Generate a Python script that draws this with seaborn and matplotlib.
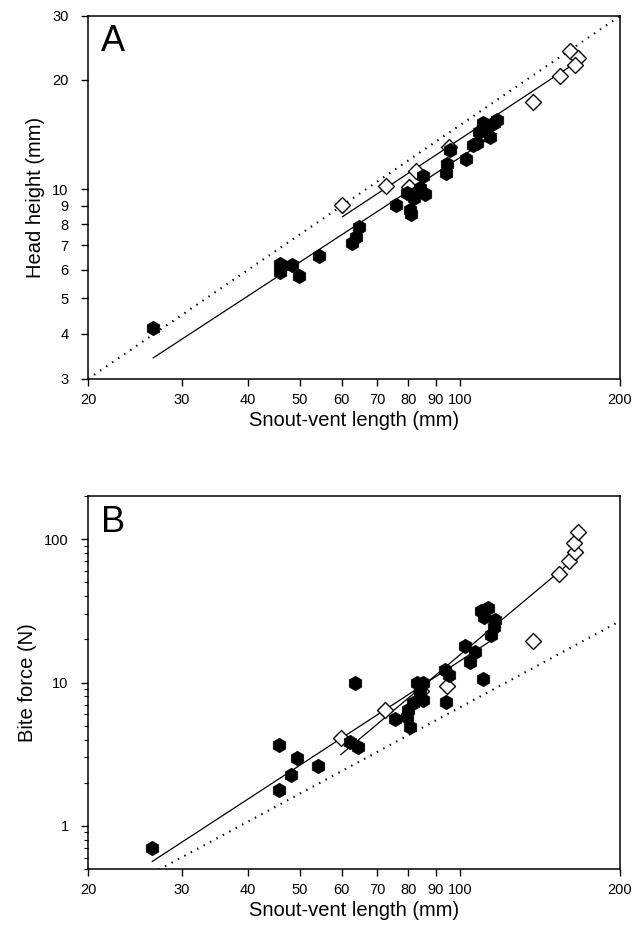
import numpy as np
import matplotlib
matplotlib.use("Agg")
import matplotlib.pyplot as plt
import seaborn as sns
from matplotlib.ticker import FixedLocator, FixedFormatter, NullLocator, LogLocator, NullFormatter

# ---------------- data ----------------
# Panel A: head height vs snout-vent length
svl_filled_A = [26.5, 46.0, 46.0, 48.4, 49.8, 54.4, 62.6, 63.8, 64.7, 75.9,
                79.4, 80.6, 80.8, 83.0, 86.0, 81.9, 84.2, 85.4, 94.2, 94.7,
                95.8, 102.7, 106.0, 107.6, 110.7, 117.3, 113.9, 108.5, 112.4, 115.8]
hh_filled_A = [4.14, 6.22, 5.93, 6.18, 5.77, 6.55, 7.10, 7.37, 7.88, 9.04,
               9.78, 8.77, 8.55, 9.84, 9.68, 9.44, 10.06, 10.87, 11.1, 11.73,
               12.83, 12.09, 13.23, 13.38, 15.19, 15.51, 13.95, 14.4, 14.87, 15.19]
svl_open_A = [60.1, 72.6, 80.2, 82.7, 95.3, 137.4, 154.3, 161.1, 167.0, 164.6]
hh_open_A = [9.05, 10.2, 10.16, 11.24, 13.1, 17.4, 20.5, 24.0, 23.0, 22.0]

# Panel B: bite force vs snout-vent length
svl_filled_B = [26.4, 45.8, 45.8, 48.1, 49.4, 54.1, 63.5, 62.1, 64.3, 75.5,
                83.0, 85.4, 84.2, 85.4, 81.8, 80.0, 79.4, 80.6, 93.8, 95.3,
                94.2, 102.2, 106.8, 104.6, 110.6, 109.6, 113.2, 111.0, 116.4, 115.7,
                114.3]
bf_filled_B = [0.70, 3.66, 1.78, 2.26, 2.96, 2.61, 9.96, 3.86, 3.56, 5.53,
               9.86, 9.86, 8.40, 7.54, 7.15, 6.42, 5.77, 4.91, 12.21, 11.27,
               7.34, 17.96, 16.4, 13.96, 10.52, 31.5, 32.9, 28.7, 27.3, 24.5,
               21.4]
svl_open_B = [59.7, 72.3, 84.5, 94.7, 137.1, 153.6, 160.2, 164.6, 164.2, 166.7]
bf_open_B = [4.07, 6.42, 8.7, 9.44, 19.55, 56.8, 70.4, 81.7, 94.4, 112.6]

# isometry reference lines: y = coef * x ** exponent
iso_A = (0.15, 1.0)
iso_B = (6.7e-4, 2.0)

x_ticks = [20, 30, 40, 50, 60, 70, 80, 90, 100, 200]
yA_ticks = [3, 4, 5, 6, 7, 8, 9, 10, 20, 30]
yB_ticks = [1, 10, 100]

# ---------------- styling ----------------
sns.set_style("ticks")
plt.rcParams['font.family'] = ['Liberation Sans', 'DejaVu Sans']
plt.rcParams['axes.linewidth'] = 1.1
for key in ('text.color', 'axes.labelcolor', 'xtick.color', 'ytick.color',
            'axes.edgecolor'):
    plt.rcParams[key] = 'black'

fig = plt.figure(figsize=(6.42, 9.32), dpi=100)
axA = fig.add_axes([88 / 642, 1 - 379 / 932, 532 / 642, 363 / 932])
axB = fig.add_axes([88 / 642, 1 - 869 / 932, 532 / 642, 373 / 932])


def draw_panel(ax, xf, yf, xo, yo, iso, ylim, ylabel, letter):
    ax.set_xscale('log')
    ax.set_yscale('log')
    # isometry line (dotted)
    xx = np.geomspace(20, 200, 300)
    sns.lineplot(x=xx, y=iso[0] * xx ** iso[1], ax=ax, color='black', lw=1.5,
                 linestyle=(0, (0.7, 2.8)), zorder=1)
    # regression lines per group in log-log space
    for xs, ys in ((xf, yf), (xo, yo)):
        xs = np.asarray(xs, float)
        ys = np.asarray(ys, float)
        b, a = np.polyfit(np.log10(xs), np.log10(ys), 1)
        xr = np.geomspace(xs.min(), xs.max(), 60)
        sns.lineplot(x=xr, y=10 ** a * xr ** b, ax=ax, color='black', lw=0.9, zorder=1)
    sns.scatterplot(x=xo, y=yo, ax=ax, marker='D', s=66, facecolor='white',
                    edgecolor='black', linewidth=1.0, zorder=2)
    sns.scatterplot(x=xf, y=yf, ax=ax, marker='h', s=110, color='black',
                    edgecolor='black', linewidth=0.4, zorder=3)
    ax.set_xlim(20, 200)
    ax.set_ylim(*ylim)
    ax.xaxis.set_major_locator(FixedLocator(x_ticks))
    ax.xaxis.set_major_formatter(FixedFormatter([str(t) for t in x_ticks]))
    ax.xaxis.set_minor_locator(NullLocator())
    ax.tick_params(which='major', direction='out', length=5, width=1.0,
                   labelsize=10.5, top=False, right=False, colors='black')
    ax.tick_params(axis='x', which='major', pad=5)
    ax.tick_params(axis='y', which='major', pad=9)
    ax.tick_params(which='minor', direction='out', length=3, width=0.8,
                   top=False, right=False, colors='black')
    ax.set_xlabel('Snout-vent length (mm)', fontsize=14.5, labelpad=3, color='black')
    ax.set_ylabel(ylabel, fontsize=14.5, labelpad=5, color='black')
    ax.text(0.025, 0.977, letter, transform=ax.transAxes, ha='left', va='top',
            fontsize=26, color='black')
    for sp in ax.spines.values():
        sp.set_visible(True)
        sp.set_color('black')


draw_panel(axA, svl_filled_A, hh_filled_A, svl_open_A, hh_open_A, iso_A,
           (3, 30), 'Head height (mm)', 'A')
axA.yaxis.set_major_locator(FixedLocator(yA_ticks))
axA.yaxis.set_major_formatter(FixedFormatter([str(t) for t in yA_ticks]))
axA.yaxis.set_minor_locator(NullLocator())

draw_panel(axB, svl_filled_B, bf_filled_B, svl_open_B, bf_open_B, iso_B,
           (0.5, 200), 'Bite force (N)', 'B')
axB.yaxis.set_major_locator(FixedLocator(yB_ticks))
axB.yaxis.set_major_formatter(FixedFormatter([str(t) for t in yB_ticks]))
axB.yaxis.set_minor_locator(LogLocator(base=10, subs=np.arange(2, 10)))
axB.yaxis.set_minor_formatter(NullFormatter())

fig.savefig('out.png', dpi=100)
